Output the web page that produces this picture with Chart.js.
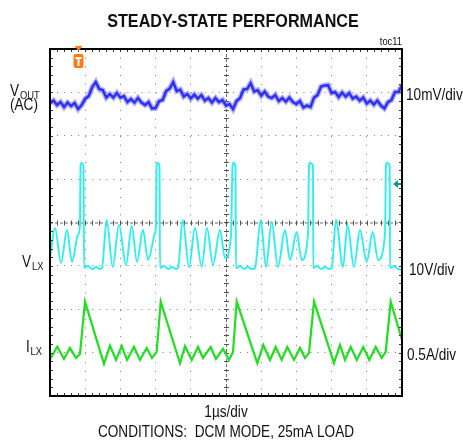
<!DOCTYPE html>
<html>
<head>
<meta charset="utf-8">
<script src="https://cdn.jsdelivr.net/npm/chart.js@4/dist/chart.umd.min.js"></script>
<style>
  body { margin: 0; background: #fff; }
  #scope { display: block; }
</style>
</head>
<body>
<canvas id="scope" width="463" height="442"></canvas>
<script>
// Time in µs (1µs/div), vertical in screen divisions (8 div tall, 0 = centre line)
const sampleStep = 0.1;

// VOUT (AC) trace, 10mV/div, one sample every 0.1µs
const vOut = [
  2.753, 2.811, 2.707, 2.776, 2.661, 2.765, 2.684, 2.753, 2.615, 2.707,
  2.855, 2.915, 3.122, 3.237, 3.076, 3.053, 2.880, 2.961, 2.880, 2.984,
  2.880, 2.915, 2.776, 2.846, 2.765, 2.869, 2.765, 2.707, 2.776, 2.627,
  2.638, 2.800, 2.823, 3.030, 3.088, 3.237, 3.030, 3.065, 2.903, 2.961,
  2.857, 2.949, 2.857, 2.938, 2.811, 2.869, 2.765, 2.869, 2.776, 2.823,
  2.696, 2.730, 2.615, 2.800, 2.869, 3.065, 3.076, 3.214, 3.018, 3.053,
  2.926, 3.018, 2.903, 2.869, 2.938, 2.800, 2.869, 2.788, 2.880, 2.776,
  2.730, 2.800, 2.650, 2.696, 2.661, 2.880, 2.938, 3.134, 3.157, 3.168,
  2.984, 3.007, 2.892, 2.995, 2.903, 2.984, 2.857, 2.903, 2.811, 2.880,
  2.742, 2.811, 2.719, 2.811, 2.696, 2.627, 2.776, 2.823, 3.007, 3.007,
  3.168
];

// VLX switching node, 10V/div
const vlxTime = [
  0, 0.142, 0.313, 0.483, 0.625, 0.795, 0.852, 0.866, 0.895, 0.938, 0.952, 0.966,
  1.080, 1.193, 1.307, 1.420, 1.477, 1.611, 1.781, 1.960, 2.159, 2.321, 2.472, 2.642,
  2.784, 2.983, 3.011, 3.026, 3.054, 3.097, 3.111, 3.125, 3.239, 3.352, 3.466, 3.580,
  3.636, 3.770, 3.949, 4.119, 4.310, 4.460, 4.631, 4.830, 4.972, 5.142, 5.185, 5.213,
  5.256, 5.270, 5.284, 5.398, 5.511, 5.625, 5.739, 5.824, 5.986, 6.136, 6.298, 6.477,
  6.676, 6.818, 7.009, 7.151, 7.330, 7.358, 7.386, 7.443, 7.472, 7.480, 7.585, 7.699,
  7.813, 7.926, 8.003, 8.125, 8.324, 8.452, 8.636, 8.807, 8.997, 9.168, 9.318, 9.517,
  9.545, 9.574, 9.631, 9.651, 9.659, 9.773, 9.886, 10.0
];
const vlxDiv = [
  -0.818, -0.127, -0.933, -0.173, -0.910, -0.288, -0.058, 1.302, 1.371, 1.348, 1.279, -1.048,
  -1.002, -1.071, -1.025, -1.071, -1.048, 0.058, -1.025, -0.058, -0.979, -0.081, -0.910, -0.173,
  -0.864, -0.242, -0.058, 1.302, 1.378, 1.348, 1.279, -1.048, -1.002, -1.071, -1.025, -1.071,
  -1.048, 0.058, -1.025, -0.127, -1.025, -0.127, -0.979, -0.173, -0.818, -0.311, 1.302, 1.378,
  1.348, 1.279, -1.048, -1.002, -1.071, -1.025, -1.071, -1.048, 0.058, -1.025, 0.012, -1.025,
  -0.173, -0.864, -0.219, -0.864, -0.265, 1.302, 1.378, 1.348, 1.279, -1.048, -1.002, -1.071,
  -1.025, -1.071, -1.048, 0.058, -1.025, -0.058, -1.025, -0.173, -0.910, -0.219, -0.864, -0.265,
  1.302, 1.378, 1.348, 1.279, -1.048, -1.002, -1.071, -1.094
];

// ILX inductor current, 0.5A/div
const ilxTime = [
  0, 0.207, 0.398, 0.568, 0.739, 0.852, 0.994, 1.534, 1.705, 1.875, 2.037, 2.188,
  2.386, 2.557, 2.747, 2.898, 3.031, 3.145, 3.693, 3.835, 4.026, 4.205, 4.347, 4.565,
  4.716, 4.915, 5.085, 5.199, 5.304, 5.889, 6.060, 6.250, 6.412, 6.582, 6.741, 6.932,
  7.102, 7.244, 7.358, 7.500, 8.068, 8.239, 8.381, 8.543, 8.716, 8.901, 9.071, 9.253,
  9.423, 9.537, 9.679, 10.0
];
const ilxDiv = [
  -3.150, -2.862, -3.145, -2.892, -3.122, -3.030, -1.825, -3.260, -2.839, -3.168, -2.846, -3.168,
  -2.869, -3.168, -2.892, -3.122, -2.984, -1.825, -3.244, -2.846, -3.168, -2.869, -3.122, -2.869,
  -3.145, -2.915, -3.168, -2.984, -1.825, -3.244, -2.823, -3.168, -2.869, -3.168, -2.869, -3.168,
  -2.892, -3.122, -3.007, -1.825, -3.237, -2.823, -3.168, -2.869, -3.168, -2.869, -3.168, -2.869,
  -3.122, -2.984, -1.825, -2.707
];

// scope markers
const triggerTime = 0.81;
const vlxGroundDiv = 0.887;

const toPoints = (xs, ys) => ys.map((y, i) => ({ x: xs[i], y }));
const vOutPoints = vOut.map((y, i) => ({ x: +(i * sampleStep).toFixed(2), y }));

const FONT = '"Liberation Sans", Arial, sans-serif';
const SQUEEZE = 0.85; // the original lettering is narrow

function text(ctx, str, x, y, size, opts = {}) {
  ctx.save();
  ctx.font = `${opts.bold ? 'bold ' : ''}${size}px ${FONT}`;
  ctx.fillStyle = opts.color || '#111';
  ctx.textAlign = opts.align || 'left';
  ctx.textBaseline = 'alphabetic';
  ctx.translate(x, y);
  ctx.scale(SQUEEZE, 1);
  ctx.fillText(str, 0, 0);
  ctx.restore();
}

// centre crosshair with its small ticks, under the traces
const crosshair = {
  id: 'crosshair',
  beforeDatasetsDraw(chart) {
    const { ctx, chartArea: a, scales: { x, y } } = chart;
    const cx = x.getPixelForValue(5), cy = y.getPixelForValue(0);
    ctx.save();
    ctx.strokeStyle = '#6a6a6a';
    ctx.lineWidth = 1;
    ctx.setLineDash([3, 2]);
    ctx.beginPath();
    ctx.moveTo(a.left, cy + 0.5); ctx.lineTo(a.right, cy + 0.5);
    ctx.moveTo(cx + 0.5, a.top); ctx.lineTo(cx + 0.5, a.bottom);
    ctx.stroke();
    ctx.setLineDash([]);
    ctx.strokeStyle = '#555';
    ctx.beginPath();
    for (let t = 0.2; t < 10; t += 0.2) {
      const px = Math.round(x.getPixelForValue(t)) + 0.5;
      ctx.moveTo(px, cy - 2); ctx.lineTo(px, cy + 3);
    }
    for (let d = -3.8; d < 4; d += 0.2) {
      const py = Math.round(y.getPixelForValue(d)) + 0.5;
      ctx.moveTo(cx - 2, py); ctx.lineTo(cx + 3, py);
    }
    ctx.stroke();
    ctx.restore();
  }
};

// frame, edge ticks, trigger + ground markers, all the lettering
const decorations = {
  id: 'decorations',
  afterDatasetsDraw(chart) {
    const { ctx, chartArea: a, scales: { x, y } } = chart;
    ctx.save();
    ctx.strokeStyle = '#333';
    ctx.lineWidth = 1;
    ctx.beginPath();
    for (let t = 0.2; t < 10; t += 0.2) {
      const px = Math.round(x.getPixelForValue(t)) + 0.5;
      ctx.moveTo(px, a.top); ctx.lineTo(px, a.top + 3);
      ctx.moveTo(px, a.bottom); ctx.lineTo(px, a.bottom - 3);
    }
    for (let d = -3.8; d < 4; d += 0.2) {
      const py = Math.round(y.getPixelForValue(d)) + 0.5;
      ctx.moveTo(a.left, py); ctx.lineTo(a.left + 3, py);
      ctx.moveTo(a.right, py); ctx.lineTo(a.right - 3, py);
    }
    ctx.stroke();

    ctx.strokeStyle = '#000';
    ctx.lineWidth = 2;
    ctx.strokeRect(a.left, a.top, a.right - a.left, a.bottom - a.top);

    // trigger marker
    const tx = x.getPixelForValue(triggerTime);
    ctx.fillStyle = '#ff7a12';
    ctx.beginPath();
    ctx.moveTo(tx - 4, a.top - 3); ctx.lineTo(tx + 4, a.top - 3); ctx.lineTo(tx, a.top + 2);
    ctx.closePath(); ctx.fill();
    ctx.beginPath();
    ctx.roundRect(tx - 5, a.top + 5, 10, 14, 2);
    ctx.fill();
    ctx.fillStyle = '#fff';
    ctx.fillRect(tx - 3, a.top + 8, 6, 2);
    ctx.fillRect(tx - 1, a.top + 8, 2, 9);

    // VLX ground arrow
    const gy = y.getPixelForValue(vlxGroundDiv);
    ctx.fillStyle = '#0f9696';
    ctx.beginPath();
    ctx.moveTo(a.right - 9, gy); ctx.lineTo(a.right - 4, gy - 4); ctx.lineTo(a.right - 4, gy + 4);
    ctx.closePath(); ctx.fill();
    ctx.fillRect(a.right - 5, gy - 1, 4, 2);
    ctx.restore();
  },
  afterDraw(chart) {
    const { ctx, chartArea: a } = chart;
    const mid = (a.left + a.right) / 2;
    text(ctx, 'STEADY-STATE PERFORMANCE', mid + 7, 27, 19, { bold: true, align: 'center' });
    text(ctx, 'toc11', a.right, 45, 11, { align: 'right' });

    text(ctx, 'V', 10, 96, 16);
    text(ctx, 'OUT', 20, 99, 11);
    text(ctx, '(AC)', 10, 110, 16);
    text(ctx, 'V', 22, 267, 16);
    text(ctx, 'LX', 32, 270, 11);
    text(ctx, 'I', 26, 352, 16);
    text(ctx, 'LX', 30.5, 355, 11);

    text(ctx, '10mV/div', a.right + 4, 100, 16);
    text(ctx, '10V/div', a.right + 7, 275, 16);
    text(ctx, '0.5A/div', a.right + 5, 360, 16);

    text(ctx, '1µs/div', mid, 417, 16, { align: 'center' });
    text(ctx, 'CONDITIONS:  DCM MODE, 25mA LOAD', mid, 437, 16, { align: 'center' });
  }
};

const trace = (data, color, width, smooth) => ({
  data,
  borderColor: color,
  borderWidth: width,
  showLine: true,
  pointRadius: 0,
  tension: 0,
  cubicInterpolationMode: smooth ? 'monotone' : 'default',
  fill: false
});

new Chart(document.getElementById('scope'), {
  type: 'scatter',
  data: {
    datasets: [
      trace(vOutPoints, 'rgba(90, 90, 255, 0.45)', 5.5),
      trace(vOutPoints, '#1010e6', 2.6),
      trace(toPoints(vlxTime, vlxDiv), '#2cf0f0', 1.9, true),
      trace(toPoints(ilxTime, ilxDiv), '#1fe01f', 2.2)
    ]
  },
  options: {
    responsive: false,
    animation: false,
    layout: { padding: { left: 50, top: 49, right: 61, bottom: 46 } },
    plugins: { legend: { display: false }, tooltip: { enabled: false } },
    scales: {
      x: {
        type: 'linear', min: 0, max: 10,
        ticks: { display: false, stepSize: 1 },
        grid: { color: '#7a7a7a', lineWidth: 1, drawTicks: false },
        border: { display: false, dash: [1, 7.7] },
        afterFit: (s) => { s.height = 0; }
      },
      y: {
        type: 'linear', min: -4, max: 4,
        ticks: { display: false, stepSize: 1 },
        grid: { color: '#7a7a7a', lineWidth: 1, drawTicks: false },
        border: { display: false, dash: [1, 6.04] },
        afterFit: (s) => { s.width = 0; }
      }
    }
  },
  plugins: [crosshair, decorations]
});
</script>
</body>
</html>
